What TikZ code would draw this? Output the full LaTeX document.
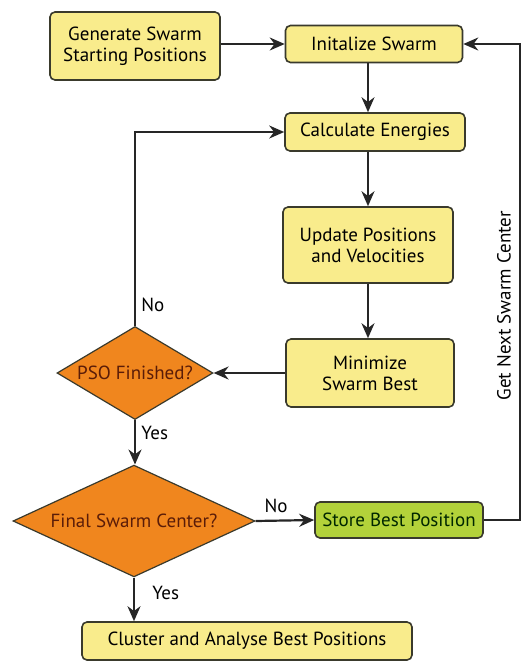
\documentclass[tikz,border=0pt]{standalone}
\usepackage{fontspec}
\setmainfont{PT Sans}
\usepackage{xcolor}
\usetikzlibrary{calc}
\usetikzlibrary{positioning}
\usetikzlibrary{shapes.geometric}
\usetikzlibrary {arrows.meta}

\definecolor{boxyellow}{HTML}{F9EC8C}
\definecolor{decorange}{HTML}{F0861E}
\definecolor{storegreen}{HTML}{B3D23A}
\definecolor{edgedark}{HTML}{3A3A2C}
\definecolor{dectext}{HTML}{5A1C08}

\begin{document}
\begin{tikzpicture}[
		x=1pt, y=-1pt,
		font=\fontsize{19}{21}\selectfont,
		b/.style = {rectangle, rounded corners=5pt, draw=edgedark, fill=boxyellow, line width=1.6pt, align=center, inner sep=0pt},
		d/.style = {diamond, draw=edgedark, fill=decorange, line width=1.2pt, text=dectext, aspect=1.7, inner sep=0pt},
		g/.style = {b, fill=storegreen, text=black!75!green!60!black},
		r/.style = {-{Stealth[length=15pt, width=13pt]}, line width=2.2pt, draw=black!85}
		]
		\useasboundingbox (0,0) rectangle (524,662);
		
		%Nodes
		\node[b, minimum width=170, minimum height=68]	(gen)	at	(135, 46)	{Generate Swarm\\Starting Positions};
		\node[b, minimum width=177, minimum height=37]	(init)	at	(374, 44)	{Initalize Swarm};
		\node[b, minimum width=180, minimum height=38]	(calc)	at	(375, 132)	{Calculate Energies};
		\node[b, minimum width=170, minimum height=76]	(upd)	at	(368, 245)	{Update Positions\\and Velocities};
		\node[b, minimum width=168, minimum height=68]	(mini)	at	(370, 373)	{Minimize\\Swarm Best};
		\node[d, minimum width=156, minimum height=93]	(pso)	at	(135, 373)	{PSO Finished?};
		\node[d, minimum width=242, minimum height=93]	(fin)	at	(134, 521)	{Final Swarm Center?};
		\node[g, minimum width=168, minimum height=36]	(store)	at	(399, 520)	{Store Best Position};
		\node[b, minimum width=330, minimum height=38]	(clus)	at	(247, 641)	{Cluster and Analyse Best Positions};
		\coordinate (back) at (520, 520);
		
		%Lines
		\draw[r]	(gen.east |- init.west)	to	(init.west);
		\draw[r]	(init.south -| upd.center)	to	(calc.north -| upd.center);
		\draw[r]	(calc.south -| upd.center)	to	(upd.north);
		\draw[r]	(upd.south)	to	(upd.south |- mini.north);
		\draw[r]	(mini.west)	to	(pso.east);
		\draw[r]	(pso.north)	|-	node[pos=0.055, right=2pt]	{No}	(calc.west);
		\draw[r]	(pso.south)	to	node[pos=0.3, right=2pt]	{Yes}	(pso.south |- fin.north);
		\draw[r]	(fin.east)	to	node[pos=0.35, above=3pt]	{No}	(store.west);
		\draw[r]	(fin.south)	to	node[pos=0.35, right=14pt]	{Yes}	(fin.south |- clus.north);
		\draw[r]	(store.east)	--	(back)	--	node[pos=0.45, rotate=90, anchor=south, inner sep=8pt]	{Get Next Swarm Center}	(back |- init.east)	--	(init.east);
	\end{tikzpicture}
\end{document}
